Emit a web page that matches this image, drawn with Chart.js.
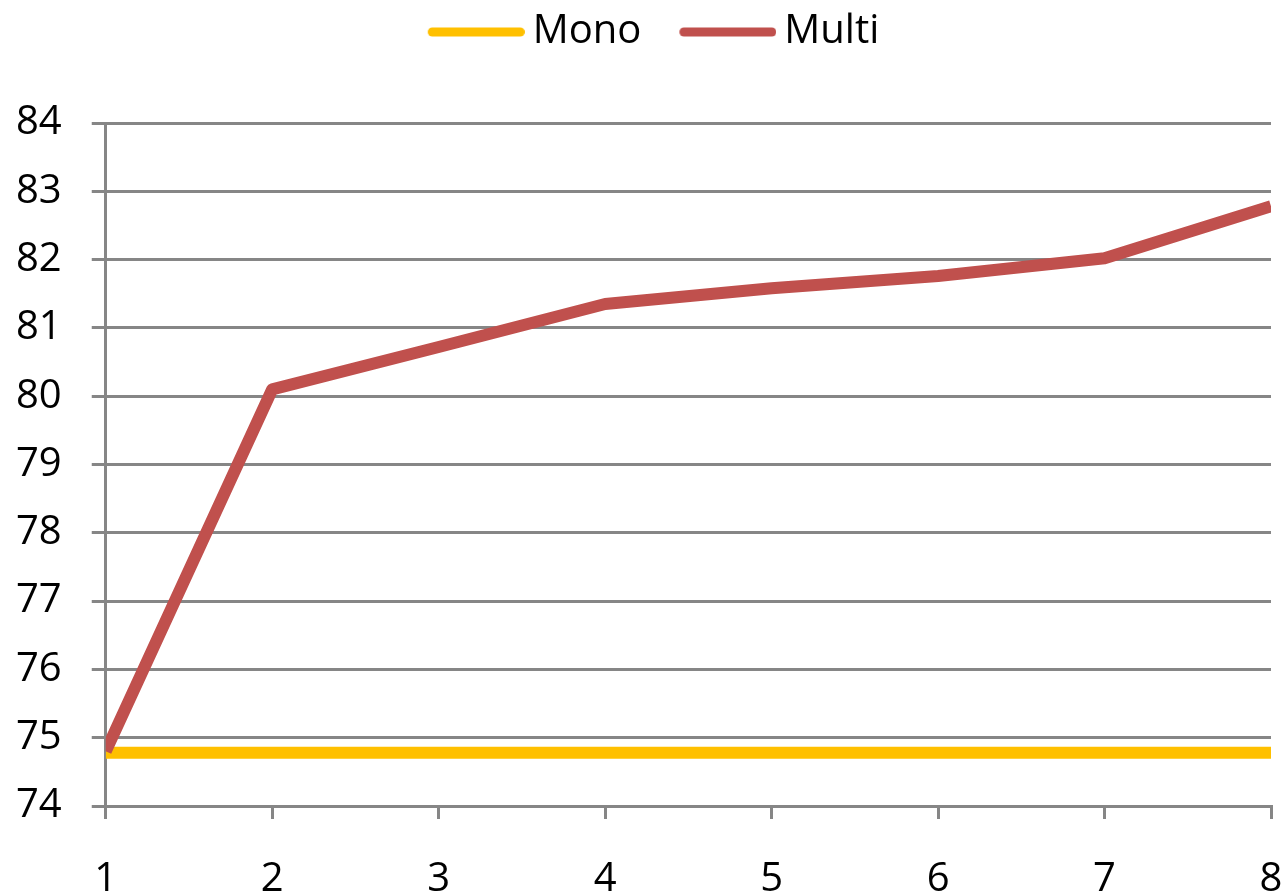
<!DOCTYPE html>
<html>
<head>
<meta charset="utf-8">
<script src="https://cdn.jsdelivr.net/npm/chart.js@4/dist/chart.umd.min.js"></script>
<style>
  html, body { margin: 0; padding: 0; background: #ffffff; }
  #wrap { width: 1288px; height: 895px; position: relative; }
</style>
</head>
<body>
<div id="wrap"><canvas id="chart"></canvas></div>
<script>
// Categories along the x axis
const categories = ['1', '2', '3', '4', '5', '6', '7', '8'];

// Series values
const monoValues  = [74.78, 74.78, 74.78, 74.78, 74.78, 74.78, 74.78, 74.78];
const multiValues = [74.8, 80.1, 80.72, 81.35, 81.58, 81.76, 82.02, 82.78];

// Y axis range and step
const yMin = 74;
const yMax = 84;
const yStep = 1;

const seriesNames = ['Mono', 'Multi'];
const seriesColors = ['#FFC000', '#C0504D'];

const GRID = '#868686';
const FONT = { family: "'Open Sans', 'Liberation Sans', sans-serif", size: 40 };

// Legend swatch: a thick rounded line, drawn into a small canvas
function legendSwatch(color) {
  const c = document.createElement('canvas');
  c.width = 109;
  c.height = 12;
  const g = c.getContext('2d');
  g.strokeStyle = color;
  g.lineWidth = 9;
  g.lineCap = 'round';
  g.beginPath();
  g.moveTo(12 + 4.5, 6);
  g.lineTo(109 - 4.5, 6);
  g.stroke();
  return c;
}
const swatches = seriesColors.map(legendSwatch);

// Gives the legend a fixed height and shifts it sideways a little
const legendLayout = {
  id: 'legendLayout',
  beforeInit(chart) {
    const legend = chart.legend;
    const fit = legend.fit;
    legend.fit = function () {
      fit.call(this);
      this.height = 149;
    };
    const draw = legend.draw;
    legend.draw = function () {
      const ctx = this.ctx;
      ctx.save();
      ctx.translate(10, 0);
      draw.call(this);
      ctx.restore();
    };
  }
};

new Chart(document.getElementById('chart'), {
  type: 'line',
  data: {
    labels: categories,
    datasets: [
      {
        label: seriesNames[0],
        data: monoValues,
        borderColor: seriesColors[0],
        backgroundColor: seriesColors[0],
        borderWidth: 12,
        pointRadius: 0,
        tension: 0,
        clip: 0,
        order: 2
      },
      {
        label: seriesNames[1],
        data: multiValues,
        borderColor: seriesColors[1],
        backgroundColor: seriesColors[1],
        borderWidth: 12,
        borderJoinStyle: 'round',
        pointRadius: 0,
        tension: 0,
        clip: 0,
        order: 1
      }
    ]
  },
  options: {
    responsive: true,
    maintainAspectRatio: false,
    animation: false,
    layout: { padding: { top: -26, left: 16, right: 17, bottom: -5 } },
    plugins: {
      tooltip: { enabled: false },
      legend: {
        position: 'top',
        labels: {
          font: FONT,
          color: '#000000',
          usePointStyle: true,
          pointStyleWidth: 85,
          boxHeight: 40,
          padding: 38,
          sort: (a, b) => a.datasetIndex - b.datasetIndex,
          generateLabels(chart) {
            const items = Chart.defaults.plugins.legend.labels.generateLabels(chart);
            items.forEach(it => { it.pointStyle = swatches[it.datasetIndex]; });
            return items;
          }
        }
      }
    },
    scales: {
      x: {
        type: 'category',
        offset: false,
        grid: {
          drawOnChartArea: false,
          drawTicks: true,
          tickLength: 54,
          tickBorderDash: [11, 300],
          color: GRID,
          lineWidth: 3
        },
        border: { display: true, color: GRID, width: 3 },
        ticks: {
          font: Object.assign({}, FONT, { lineHeight: 1 }),
          color: '#000000',
          padding: 0,
          maxRotation: 0,
          autoSkip: false
        }
      },
      y: {
        min: yMin,
        max: yMax,
        grid: {
          color: GRID,
          lineWidth: 3,
          tickLength: 44,
          tickBorderDash: [0, 30, 14, 300]
        },
        border: { display: true, color: GRID, width: 3 },
        ticks: {
          stepSize: yStep,
          font: FONT,
          color: '#000000',
          padding: 0
        }
      }
    }
  },
  plugins: [legendLayout]
});
</script>
</body>
</html>
